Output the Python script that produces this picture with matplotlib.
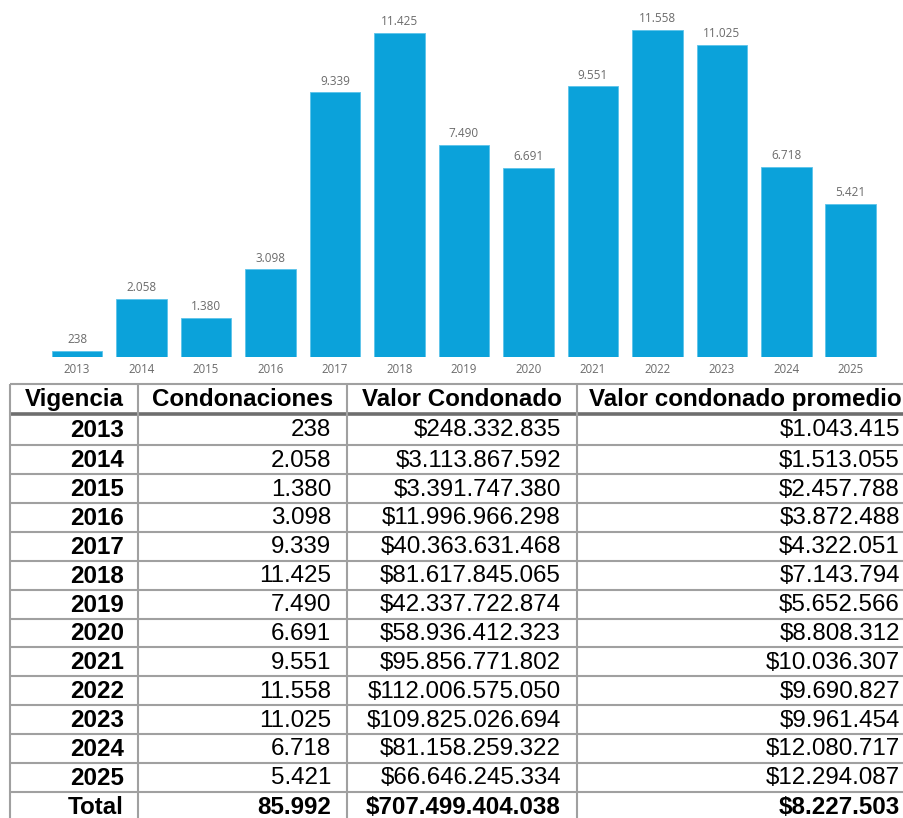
import matplotlib.pyplot as plt

years = ["2013", "2014", "2015", "2016", "2017", "2018", "2019",
         "2020", "2021", "2022", "2023", "2024", "2025"]
condonaciones = [238, 2058, 1380, 3098, 9339, 11425, 7490,
                 6691, 9551, 11558, 11025, 6718, 5421]
valor_condonado = ["$248.332.835", "$3.113.867.592", "$3.391.747.380",
                   "$11.996.966.298", "$40.363.631.468", "$81.617.845.065",
                   "$42.337.722.874", "$58.936.412.323", "$95.856.771.802",
                   "$112.006.575.050", "$109.825.026.694", "$81.158.259.322",
                   "$66.646.245.334"]
valor_promedio = ["$1.043.415", "$1.513.055", "$2.457.788", "$3.872.488",
                  "$4.322.051", "$7.143.794", "$5.652.566", "$8.808.312",
                  "$10.036.307", "$9.690.827", "$9.961.454", "$12.080.717",
                  "$12.294.087"]
headers = ["Vigencia", "Condonaciones", "Valor Condonado", "Valor condonado promedio"]
total_row = ["Total", "85.992", "$707.499.404.038", "$8.227.503"]

W, H = 904, 818
BAR_COLOR = "#0ba2da"
LABEL_GRAY = "#6b6b6b"


def fmt_miles(n):
    return "{:,}".format(n).replace(",", ".")


fig = plt.figure(figsize=(W / 100, H / 100), dpi=100)

# --- bar chart (pixel box: x 44..883, y 0..357) ---
bar_bottom = 357.3
ax = fig.add_axes([44.8 / W, (H - bar_bottom) / H, (883.0 - 44.8) / W, bar_bottom / H])
x = range(len(years))
ax.bar(x, condonaciones, width=0.785, color=BAR_COLOR, edgecolor="#5cc3ea", linewidth=0.6)
ax.set_xlim(-0.5, len(years) - 0.5)
ax.set_ylim(0, 12600)
for i, v in zip(x, condonaciones):
    ax.annotate(fmt_miles(v), (i, v), xytext=(0, 3.5), textcoords="offset points",
                ha="center", va="bottom", fontsize=8.5, color=LABEL_GRAY,
                family="Open Sans")
ax.set_xticks(list(x))
ax.set_xticklabels(years, fontsize=8.3, color=LABEL_GRAY, family="Open Sans")
ax.tick_params(axis="x", length=0, pad=4)
ax.set_yticks([])
for s in ax.spines.values():
    s.set_visible(False)

# --- table drawn in pixel coordinates ---
tb = fig.add_axes([0, 0, 1, 1])
tb.set_xlim(0, W)
tb.set_ylim(H, 0)
tb.axis("off")

col_edges = [10, 137.7, 347, 577, 920]
right_pos = [124, 331, 561, 900]
line_gray = "#a0a0a0"

row_edges = [384, 413.5, 445.3]
for k in range(13):
    row_edges.append(445.3 + 28.87 * (k + 1))

# horizontal lines
for j, yv in enumerate(row_edges):
    if j == 1:
        tb.plot([10, W], [yv, yv], color="#6e6e6e", lw=2.6, solid_capstyle="butt")
    else:
        tb.plot([10, W], [yv, yv], color=line_gray, lw=1.5, solid_capstyle="butt")
# vertical lines
for xv in col_edges[:-1]:
    tb.plot([xv, xv], [row_edges[0], H], color=line_gray, lw=1.5, solid_capstyle="butt")

FS = 17.4
fam = "Liberation Sans"
# header
hy = (row_edges[0] + row_edges[1]) / 2 + 1
for c, h in enumerate(headers):
    cx = (col_edges[c] + min(col_edges[c + 1], 904)) / 2
    if c == 3:
        cx = 745
    tb.text(cx, hy, h, ha="center", va="center", fontsize=FS, fontweight="bold",
            family=fam, color="black")

rows = []
for i in range(len(years)):
    rows.append([years[i], fmt_miles(condonaciones[i]), valor_condonado[i], valor_promedio[i]])
rows.append(total_row)

for r, vals in enumerate(rows):
    top = row_edges[r + 1]
    bot = row_edges[r + 2] if r + 2 < len(row_edges) else top + 28.87
    cy = (top + bot) / 2 + 1
    bold_row = r == len(rows) - 1
    for c, v in enumerate(vals):
        weight = "bold" if (c == 0 or bold_row) else "normal"
        tb.text(right_pos[c], cy, v, ha="right", va="center", fontsize=FS,
                fontweight=weight, family=fam, color="black")

fig.savefig("out.png", dpi=100)
